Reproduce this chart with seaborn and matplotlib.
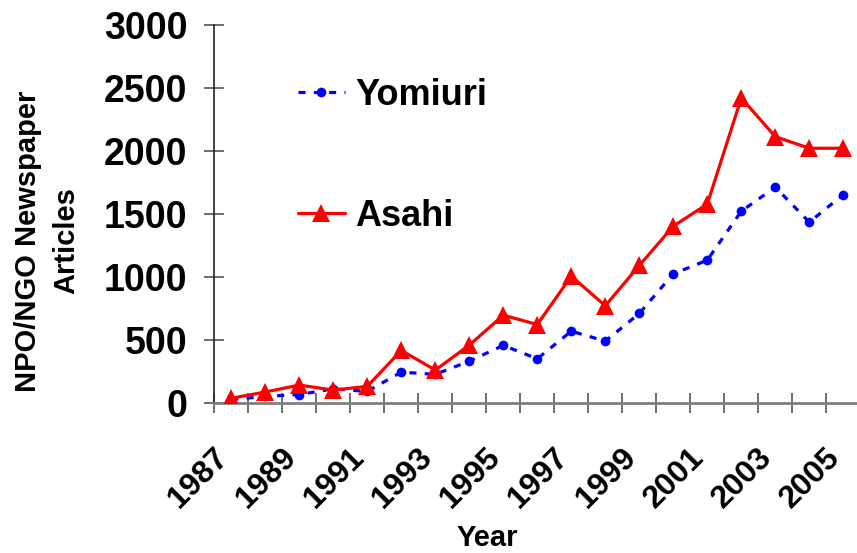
import matplotlib
matplotlib.use("Agg")
import matplotlib.pyplot as plt
import matplotlib.transforms as mtransforms
import seaborn as sns
import numpy as np
from matplotlib.ticker import FixedLocator, NullFormatter

# ---- data ----
years = [str(y) for y in range(1987, 2006)]
yomiuri = [25, 50, 65, 110, 90, 243, 225, 330, 455, 349, 568, 489, 709, 1024, 1132, 1521, 1712, 1434, 1653]
asahi = [35, 85, 140, 100, 130, 415, 259, 457, 695, 621, 1005, 770, 1090, 1402, 1578, 2420, 2113, 2021, 2021]
y_ticks = [0, 500, 1000, 1500, 2000, 2500, 3000]
x_tick_labels = years[::2]

sns.set_theme(style="white")
plt.rcParams['font.family'] = ['Liberation Sans', 'DejaVu Sans']
plt.rcParams['font.weight'] = 'bold'
plt.rcParams['text.color'] = 'black'
plt.rcParams['axes.labelcolor'] = 'black'
plt.rcParams['xtick.labelcolor'] = 'black'
plt.rcParams['ytick.labelcolor'] = 'black'

W, H = 857, 553
fig = plt.figure(figsize=(W / 100, H / 100), dpi=100)
x0, x1 = 214.3, 860.3
yb, yt = 402.7, 25.0
ax = fig.add_axes([x0 / W, (H - yb) / H, (x1 - x0) / W, (yb - yt) / H])

sns.lineplot(x=years, y=yomiuri, ax=ax, color='#0000FF', linewidth=2.3,
             marker='o', markersize=7, markeredgewidth=0, label='Yomiuri',
             sort=False, zorder=3)
sns.lineplot(x=years, y=asahi, ax=ax, color='#FF0000', linewidth=2.3,
             marker='^', markersize=13, markeredgewidth=0, label='Asahi',
             sort=False, zorder=4)
ax.lines[0].set_dashes([2.2, 2.6])

n = len(years)
ax.set_xlim(-0.5, n - 0.5)
ax.set_ylim(0, 3000)

# y ticks
ax.set_yticks(y_ticks)
ax.set_yticklabels([str(v) for v in y_ticks], fontsize=27, fontweight='bold', color='black')
ax.tick_params(axis='y', direction='inout', length=15, width=1.2, color='#555555', pad=12, left=True)

# x: label ticks at category centers (no marks), mark ticks at category boundaries
label_pos = list(range(0, n, 2))
ax.set_xticks(label_pos)
ax.set_xticklabels(x_tick_labels, fontsize=23, fontweight='bold', rotation=45, color='black',
                   ha='right', va='center', rotation_mode='anchor')
ax.tick_params(axis='x', which='major', length=0, pad=36, bottom=True)
offset = mtransforms.ScaledTranslation(-8 / 100, 0, fig.dpi_scale_trans)
for lab in ax.get_xticklabels():
    lab.set_transform(lab.get_transform() + offset)
ax.xaxis.set_minor_locator(FixedLocator(np.arange(-0.5, n, 1.0)))
ax.xaxis.set_minor_formatter(NullFormatter())
ax.tick_params(axis='x', which='minor', direction='inout', length=15, width=1.2,
               color='#555555', bottom=True)

for s in ['top', 'right']:
    ax.spines[s].set_visible(False)
ax.spines['left'].set_color('#222222')
ax.spines['left'].set_linewidth(1.2)
ax.spines['bottom'].set_color('#808080')
ax.spines['bottom'].set_linewidth(2)

ax.set_xlabel('Year', fontsize=21, fontweight='bold', color='black')
ax.xaxis.set_label_coords((487 - x0) / (x1 - x0), -(524 - yb) / (yb - yt))
ax.set_ylabel('NPO/NGO Newspaper\nArticles', fontsize=21, fontweight='bold', linespacing=1.45, color='black')
ax.yaxis.set_label_coords((80 - x0) / (x1 - x0), (yb - 241) / (yb - yt))

leg = ax.legend(loc='upper left', bbox_to_anchor=((298 - x0) / (x1 - x0), (yb - 78) / (yb - yt)),
                frameon=False, fontsize=26, labelspacing=2.38, handlelength=1.3,
                handletextpad=0.28, borderpad=0, borderaxespad=0)
for t in leg.get_texts():
    t.set_fontweight('bold')
    t.set_color('black')

fig.savefig('out.png', dpi=100)
